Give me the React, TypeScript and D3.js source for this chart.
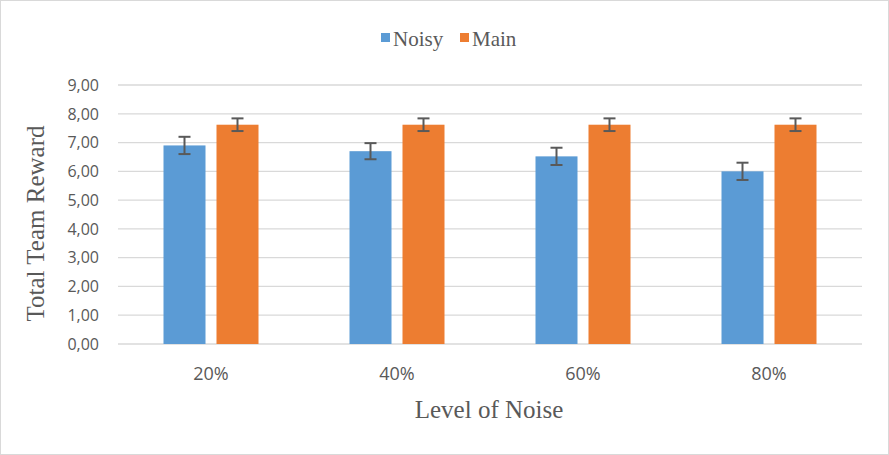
import React from "react";
import * as d3 from "d3";

// Level of noise vs total team reward
const categories = ["20%", "40%", "60%", "80%"];
const noisyValues = [6.9, 6.7, 6.52, 6.0];
const noisyErrors = [0.3, 0.28, 0.3, 0.3];
const mainValues = [7.62, 7.62, 7.62, 7.62];
const mainErrors = [0.22, 0.22, 0.22, 0.22];
const seriesNames = ["Noisy", "Main"];
const seriesColors = ["#5B9BD5", "#ED7D31"];
const yTicks = [0, 1, 2, 3, 4, 5, 6, 7, 8, 9];

const width = 889;
const height = 455;
const margin = { top: 85, right: 27, bottom: 111, left: 118 };
const serif = "'Liberation Serif', 'Times New Roman', serif";
const sans = "'Open Sans', sans-serif";

export default function App() {
  const innerW = width - margin.left - margin.right;
  const innerH = height - margin.top - margin.bottom;

  const x = d3.scaleBand().domain(categories).range([0, innerW]);
  const y = d3.scaleLinear().domain([0, 9]).range([innerH, 0]);
  const barW = 42;
  const gap = 11;

  const fmt = (v: number) => v.toFixed(2).replace(".", ",");
  const series = [
    { vals: noisyValues, errs: noisyErrors, offset: -(gap / 2 + barW) },
    { vals: mainValues, errs: mainErrors, offset: gap / 2 },
  ];

  return (
    <svg
      width={width}
      height={height}
      style={{ position: "absolute", left: 0, top: 0, background: "#fff" }}
    >
      <rect x={0.5} y={0.5} width={width - 1} height={height - 1} fill="#fff" stroke="#D9D9D9" />

      {/* legend */}
      <g fontFamily={serif} fontSize={21} fill="#595959">
        {seriesNames.map((name, i) => {
          const lx = i === 0 ? 381 : 460;
          return (
            <g key={name}>
              <rect x={lx} y={33} width={9} height={9} fill={seriesColors[i]} />
              <text x={lx + 12} y={46}>{name}</text>
            </g>
          );
        })}
      </g>

      <g transform={`translate(${margin.left},${margin.top})`}>
        {yTicks.map((t) => (
          <g key={t}>
            <line x1={0} x2={innerW} y1={y(t)} y2={y(t)} stroke="#D9D9D9" strokeWidth={1.3} />
            <text
              x={-19}
              y={y(t)}
              dy="0.36em"
              textAnchor="end"
              fontFamily={sans}
              fontSize={16}
              fill="#595959"
            >
              {fmt(t)}
            </text>
          </g>
        ))}

        {categories.map((c, ci) => {
          const cx = (x(c) ?? 0) + x.bandwidth() / 2;
          return (
            <g key={c}>
              {series.map((s, si) => {
                const bx = cx + s.offset;
                const v = s.vals[ci];
                const e = s.errs[ci];
                const mx = bx + barW / 2;
                return (
                  <g key={si}>
                    <rect x={bx} y={y(v)} width={barW} height={innerH - y(v)} fill={seriesColors[si]} />
                    <g stroke="#595959" strokeWidth={2}>
                      <line x1={mx} x2={mx} y1={y(v + e)} y2={y(v - e)} />
                      <line x1={mx - 6} x2={mx + 6} y1={y(v + e)} y2={y(v + e)} />
                      <line x1={mx - 6} x2={mx + 6} y1={y(v - e)} y2={y(v - e)} />
                    </g>
                  </g>
                );
              })}
              <text
                x={cx}
                y={innerH + 36}
                textAnchor="middle"
                fontFamily={sans}
                fontSize={18}
                fill="#595959"
              >
                {c}
              </text>
            </g>
          );
        })}

        <text
          transform={`translate(${44 - margin.left},${innerH / 2 + 9}) rotate(-90)`}
          textAnchor="middle"
          fontFamily={serif}
          fontSize={25}
          fill="#595959"
        >
          Total Team Reward
        </text>
        <text
          x={489 - margin.left}
          y={418 - margin.top}
          textAnchor="middle"
          fontFamily={serif}
          fontSize={25}
          fill="#595959"
        >
          Level of Noise
        </text>
      </g>
    </svg>
  );
}
